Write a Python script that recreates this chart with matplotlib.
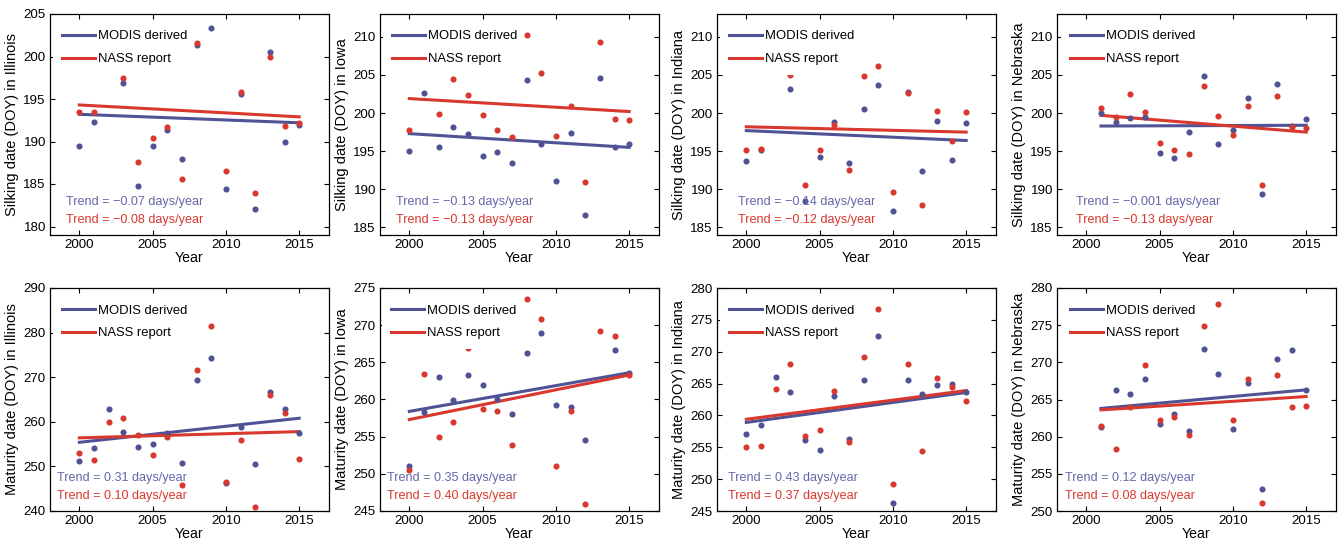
import matplotlib
matplotlib.use("Agg")
import matplotlib.pyplot as plt
from matplotlib.patches import Rectangle
from matplotlib.transforms import IdentityTransform
import numpy as np

plt.rcParams['font.family'] = ['Liberation Sans', 'DejaVu Sans']

BLUE = '#4f5395'
RED = '#d8382d'
BLUE_TXT = '#6468a8'
RED_TXT = '#d8382d'

years_full = [2000, 2001, 2002, 2003, 2004, 2005, 2006, 2007, 2008, 2009, 2010, 2011, 2012, 2013, 2014, 2015]
years_ne = [2001, 2002, 2003, 2004, 2005, 2006, 2007, 2008, 2009, 2010, 2011, 2012, 2013, 2014, 2015]
nan = float('nan')

# Silking, Illinois
silk_il_modis = [189.5, 192.3, nan, 196.9, 184.8, 189.5, 191.3, 188.0, 201.4, 203.3, 184.4, 195.6, 182.1, 200.5, 189.9, 191.9]
silk_il_nass = [193.5, 193.5, nan, 197.5, 187.6, 190.4, 191.7, 185.6, 201.6, nan, 186.5, 195.8, 183.9, 200.0, 191.8, 192.2]
silk_il_trend_modis = [193.2, 192.2]
silk_il_trend_nass = [194.3, 192.9]

# Silking, Iowa
silk_ia_modis = [195.0, 202.6, 195.6, 198.2, 197.2, 194.4, 194.9, 193.4, 204.3, 196.0, 191.1, 197.4, 186.6, 204.6, 195.5, 196.0]
silk_ia_nass = [197.8, nan, 199.9, 204.5, 202.4, 199.8, 197.8, 196.9, 210.2, 205.2, 197.0, 200.9, 190.9, 209.3, 199.2, 199.1]
silk_ia_trend_modis = [197.3, 195.5]
silk_ia_trend_nass = [201.9, 200.2]

# Silking, Indiana
silk_in_modis = [193.7, 195.2, nan, 203.2, 188.4, 194.3, 198.8, 193.4, 200.5, 203.7, 187.1, 202.8, 192.4, 198.9, 193.8, 198.7]
silk_in_nass = [195.1, 195.3, nan, 205.0, 190.6, 195.1, 198.4, 192.5, 204.9, 206.2, 189.6, 202.6, 188.0, 200.3, 196.3, 200.2]
silk_in_trend_modis = [197.7, 196.4]
silk_in_trend_nass = [198.2, 197.5]

# Silking, Nebraska
silk_ne_modis = [200.0, 198.8, 199.3, 199.5, 194.7, 194.1, 197.5, 204.9, 196.0, 197.8, 202.0, 189.4, 203.8, 198.3, 199.2]
silk_ne_nass = [200.6, 199.5, 202.5, 200.2, 196.1, 195.2, 194.6, 203.5, 199.6, 197.1, 200.9, 190.6, 202.3, 198.2, 198.0]
silk_ne_trend_modis = [198.3, 198.4]
silk_ne_trend_nass = [199.7, 197.5]

# Maturity, Illinois
mat_il_modis = [251.1, 254.1, 262.8, 257.8, 254.3, 255.1, 257.6, 250.8, 269.3, 274.2, 246.3, 258.9, 250.6, 266.6, 262.9, 257.6]
mat_il_nass = [253.0, 251.5, 259.9, 260.9, 257.1, 252.6, 256.6, 245.9, 271.6, 281.4, 246.6, 255.9, 241.0, 265.9, 261.9, 251.6]
mat_il_trend_modis = [255.4, 260.8]
mat_il_trend_nass = [256.4, 257.8]

# Maturity, Iowa
mat_ia_modis = [251.0, 258.3, 263.0, 259.9, 263.3, 262.0, 260.0, 258.0, 266.2, 268.9, 259.3, 259.0, 254.6, nan, 266.6, 263.6]
mat_ia_nass = [250.5, 263.4, 255.0, 257.0, 266.9, 258.7, 258.4, 253.9, 273.5, 270.8, 251.1, 258.5, 246.0, 269.2, 268.6, 263.3]
mat_ia_trend_modis = [258.4, 263.6]
mat_ia_trend_nass = [257.3, 263.3]

# Maturity, Indiana
mat_in_modis = [257.1, 258.5, 266.1, 263.6, 256.1, 254.5, 263.1, 256.3, 265.5, 272.4, 246.2, 265.5, 263.3, 264.7, 265.0, 263.6]
mat_in_nass = [255.1, 255.2, 264.2, 268.0, 256.8, 257.7, 263.9, 255.8, 269.1, 276.7, 249.3, 268.0, 254.4, 265.9, 264.4, 262.3]
mat_in_trend_modis = [258.9, 263.6]
mat_in_trend_nass = [259.4, 263.9]

# Maturity, Nebraska
mat_ne_modis = [261.3, 266.3, 265.7, 267.7, 261.7, 263.1, 260.7, 271.8, 268.4, 261.0, 267.2, 253.0, 270.5, 271.6, 266.3]
mat_ne_nass = [261.4, 258.4, 264.0, 269.7, 262.2, 262.6, 260.2, 274.9, 277.8, 262.2, 267.8, 251.1, 268.3, 264.0, 264.1]
mat_ne_trend_modis = [263.8, 266.3]
mat_ne_trend_nass = [263.6, 265.4]

trend_labels_modis = ['Trend = \u22120.07 days/year', 'Trend = \u22120.13 days/year',
                      'Trend = \u22120.14 days/year', 'Trend = \u22120.001 days/year',
                      'Trend = 0.31 days/year', 'Trend = 0.35 days/year',
                      'Trend = 0.43 days/year', 'Trend = 0.12 days/year']
trend_labels_nass = ['Trend = \u22120.08 days/year', 'Trend = \u22120.13 days/year',
                     'Trend = \u22120.12 days/year', 'Trend = \u22120.13 days/year',
                     'Trend = 0.10 days/year', 'Trend = 0.40 days/year',
                     'Trend = 0.37 days/year', 'Trend = 0.08 days/year']
ylabels = ['Silking date (DOY) in Illinois', 'Silking date (DOY) in Iowa',
           'Silking date (DOY) in Indiana', 'Silking date (DOY) in Nebraska',
           'Maturity date (DOY) in Illinois', 'Maturity date (DOY) in Iowa',
           'Maturity date (DOY) in Indiana', 'Maturity date (DOY) in Nebraska']

panels = [
    (years_full, silk_il_modis, silk_il_nass, silk_il_trend_modis, silk_il_trend_nass),
    (years_full, silk_ia_modis, silk_ia_nass, silk_ia_trend_modis, silk_ia_trend_nass),
    (years_full, silk_in_modis, silk_in_nass, silk_in_trend_modis, silk_in_trend_nass),
    (years_ne, silk_ne_modis, silk_ne_nass, silk_ne_trend_modis, silk_ne_trend_nass),
    (years_full, mat_il_modis, mat_il_nass, mat_il_trend_modis, mat_il_trend_nass),
    (years_full, mat_ia_modis, mat_ia_nass, mat_ia_trend_modis, mat_ia_trend_nass),
    (years_full, mat_in_modis, mat_in_nass, mat_in_trend_modis, mat_in_trend_nass),
    (years_ne, mat_ne_modis, mat_ne_nass, mat_ne_trend_modis, mat_ne_trend_nass),
]

ylims = [(179, 205), (184, 213), (184, 213), (184, 213),
         (240, 290), (245, 275), (245, 280), (250, 280)]
yticks = [np.arange(180, 206, 5), np.arange(185, 211, 5), np.arange(185, 211, 5), np.arange(185, 211, 5),
          np.arange(240, 291, 10), np.arange(245, 276, 5), np.arange(245, 281, 5), np.arange(250, 281, 5)]
text_x = [0.058, 0.058, 0.076, 0.07, 0.024, 0.024, 0.04, 0.029]
legend_x = [0.043, 0.043, 0.043, 0.047, 0.043, 0.04, 0.043, 0.047]

W, H = 1343, 542
fig = plt.figure(figsize=(W / 100, H / 100), dpi=100)
lefts = [50, 380, 717, 1057]
rows = [(14, 235), (288, 511)]
axw = 278.5

axes_legends = []
for i, (yrs, modis, nass, tm, tn) in enumerate(panels):
    r, c = divmod(i, 4)
    top, bot = rows[r]
    ax = fig.add_axes([lefts[c] / W, 1 - bot / H, axw / W, (bot - top) / H])
    ax.plot(yrs, modis, 'o', color=BLUE, ms=4.4, mec='none', zorder=3)
    ax.plot(yrs, nass, 'o', color=RED, ms=4.4, mec='none', zorder=3)
    ends = [yrs[0], yrs[-1]]
    lm, = ax.plot(ends, tm, '-', color=BLUE, lw=2.2, zorder=2, label='MODIS derived')
    ln, = ax.plot(ends, tn, '-', color=RED, lw=2.2, zorder=2, label='NASS report')
    ax.set_xlim(1998, 2017)
    ax.set_ylim(*ylims[i])
    ax.set_xticks([2000, 2005, 2010, 2015])
    ax.set_yticks(yticks[i])
    ax.tick_params(direction='in', top=True, right=True, labelsize=9.6, length=3.5, width=0.8, pad=3)
    for s in ax.spines.values():
        s.set_linewidth(0.9)
    ax.set_xlabel('Year', fontsize=10.2, labelpad=0)
    ax.set_ylabel(ylabels[i], fontsize=10.5, labelpad=3)
    leg = ax.legend(handles=[lm, ln], loc='upper left', frameon=False, fontsize=9.4,
                    handlelength=2.5, handletextpad=0.25, labelspacing=0.8,
                    borderaxespad=0.0, borderpad=0.0,
                    bbox_to_anchor=(legend_x[i], 0.926))
    leg.set_zorder(6)
    ax.text(text_x[i], 0.15, trend_labels_modis[i], transform=ax.transAxes,
            color=BLUE_TXT, fontsize=9.1, va='center', ha='left')
    ax.text(text_x[i], 0.068, trend_labels_nass[i], transform=ax.transAxes,
            color=RED_TXT, fontsize=9.1, va='center', ha='left')
    axes_legends.append((ax, leg))

# white legend background (as in the original), slightly padded around the entries
fig.canvas.draw()
for ax, leg in axes_legends:
    bb = leg.get_window_extent()
    rect = Rectangle((bb.x0 - 9, bb.y0 - 10), bb.width + 13, bb.height + 18,
                     transform=IdentityTransform(), facecolor='white',
                     edgecolor='none', zorder=5)
    ax.add_patch(rect)

fig.savefig('out.png', dpi=100)
